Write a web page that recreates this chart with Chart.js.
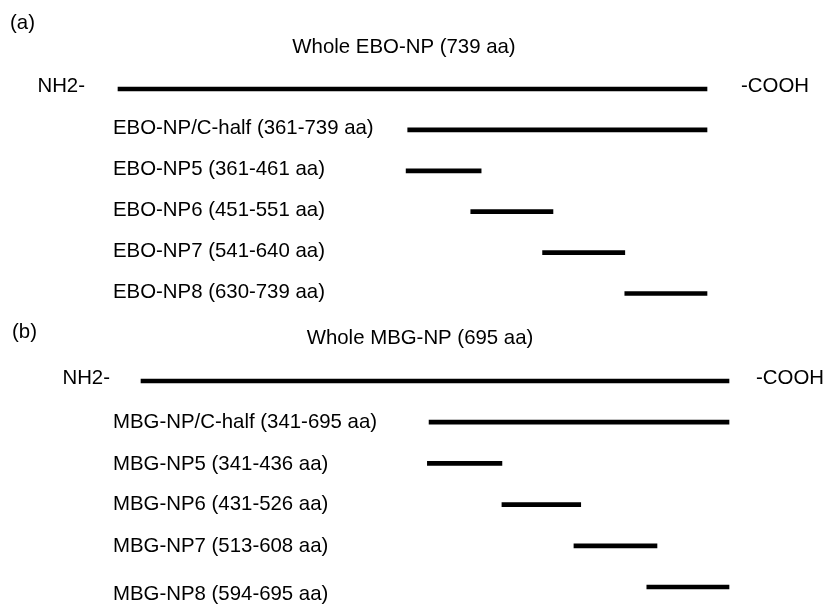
<!DOCTYPE html>
<html>
<head>
<meta charset="utf-8">
<script src="https://cdn.jsdelivr.net/npm/chart.js@4.4.1/dist/chart.umd.min.js"></script>
<style>
  html, body { margin: 0; padding: 0; background: #ffffff; }
  #wrap { position: relative; width: 832px; height: 605px; background: #ffffff; }
  .layer { position: absolute; left: 0; top: 0; width: 832px; height: 605px; }
</style>
</head>
<body>
<div id="wrap">
  <div class="layer"><canvas id="chartA" width="832" height="605"></canvas></div>
  <div class="layer"><canvas id="chartB" width="832" height="605"></canvas></div>
</div>
<script>
// ---------- Data: panel (a) Ebola NP ----------
const eboCategories = [
  'Whole EBO-NP (739 aa)',
  'EBO-NP/C-half (361-739 aa)',
  'EBO-NP5 (361-461 aa)',
  'EBO-NP6 (451-551 aa)',
  'EBO-NP7 (541-640 aa)',
  'EBO-NP8 (630-739 aa)'
];
const eboStart = [1, 364, 362, 443, 533, 636];
const eboEnd   = [739, 739, 456, 546, 636, 739];
const eboLength = 739;

// ---------- Data: panel (b) Marburg NP ----------
const mbgCategories = [
  'Whole MBG-NP (695 aa)',
  'MBG-NP/C-half (341-695 aa)',
  'MBG-NP5 (341-436 aa)',
  'MBG-NP6 (431-526 aa)',
  'MBG-NP7 (513-608 aa)',
  'MBG-NP8 (594-695 aa)'
];
const mbgStart = [1, 341, 339, 427, 512, 598];
const mbgEnd   = [695, 695, 427, 520, 610, 695];
const mbgLength = 695;

const FONT = '20.4px "Liberation Sans", Arial, Helvetica, sans-serif';

function makePanel(canvasId, cats, starts, ends, len, cfg) {
  const textPlugin = {
    id: 'textPlugin_' + canvasId,
    afterDraw(chart) {
      const ctx = chart.ctx;
      const xs = chart.scales.x;
      const ys = chart.scales.y;
      ctx.save();
      ctx.fillStyle = '#000000';
      ctx.font = FONT;
      ctx.textBaseline = 'middle';
      const y0 = ys.getPixelForValue(0);
      // panel letter
      ctx.textAlign = 'left';
      ctx.fillText(cfg.letter, cfg.letterX, cfg.letterY);
      // title of whole protein (category 0)
      ctx.textAlign = 'center';
      ctx.fillText(cats[0], cfg.titleX, y0 + cfg.titleDy);
      // terminal labels
      ctx.textAlign = 'right';
      ctx.fillText('NH2-', xs.getPixelForValue(1) - cfg.nGap, y0 + cfg.termDy);
      ctx.textAlign = 'left';
      ctx.fillText('-COOH', xs.getPixelForValue(len) + cfg.cGap, y0 + cfg.termDy);
      // fragment labels
      for (let i = 1; i < cats.length; i++) {
        const dy = cfg.labelDy + (cfg.labelShift[i] || 0);
        ctx.fillText(cats[i], cfg.labelX, ys.getPixelForValue(i) + dy);
      }
      ctx.restore();
    }
  };

  return new Chart(document.getElementById(canvasId), {
    type: 'bar',
    data: {
      labels: cats,
      datasets: [{
        data: starts.map((s, i) => [s, ends[i]]),
        backgroundColor: '#000000',
        borderWidth: 0,
        borderSkipped: false,
        barThickness: 4,
        clip: false
      }]
    },
    options: {
      indexAxis: 'y',
      responsive: false,
      animation: false,
      devicePixelRatio: 1,
      layout: { padding: cfg.padding },
      scales: {
        x: { type: 'linear', min: 1, max: len, display: false },
        y: { type: 'category', offset: false, display: false, grid: { offset: false } }
      },
      plugins: {
        legend: { display: false },
        tooltip: { enabled: false }
      }
    },
    plugins: [textPlugin]
  });
}

makePanel('chartA', eboCategories, eboStart, eboEnd, eboLength, {
  padding: { left: 118, right: 125, top: 89, bottom: 311.5 },
  letter: '(a)', letterX: 10, letterY: 23,
  titleX: 404, titleDy: -42,
  nGap: 33, cGap: 34, termDy: -3,
  labelX: 113, labelDy: -1,
  labelShift: [0, -1, 0, 0, 0, 0]
});

makePanel('chartB', mbgCategories, mbgStart, mbgEnd, mbgLength, {
  padding: { left: 141, right: 103, top: 381, bottom: 18 },
  letter: '(b)', letterX: 12, letterY: 332,
  titleX: 420, titleDy: -43,
  nGap: 31, cGap: 27, termDy: -3,
  labelX: 113, labelDy: 0,
  labelShift: [0, 0, 1, 0, 1, 7]
});
</script>
</body>
</html>
